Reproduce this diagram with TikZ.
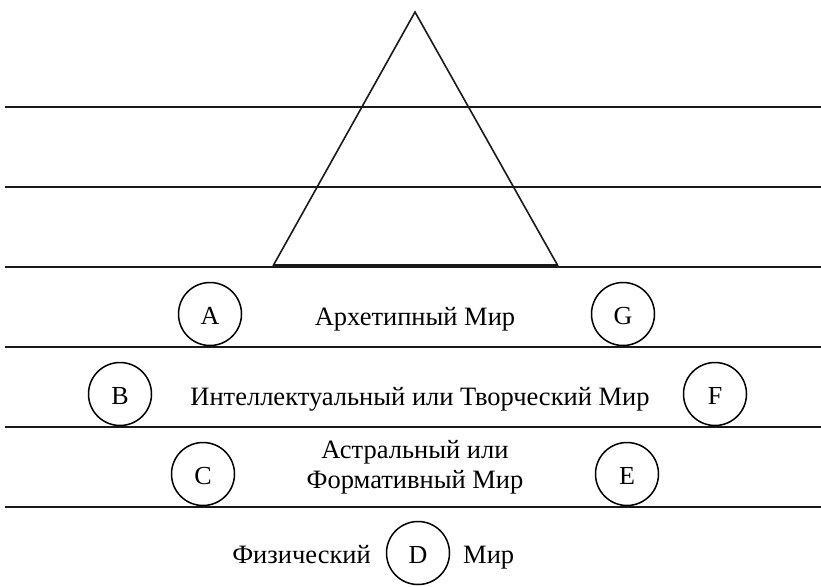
\documentclass[tikz,border=0pt]{standalone}
\usepackage{fontspec}
\setmainfont{Liberation Serif}
\begin{document}
\begin{tikzpicture}[x=1pt,y=-1pt,
  level/.style={line width=2.4pt,black!90},
  tri/.style={line width=1.6pt,black!90},
  letter/.style={circle,draw,line width=1.5pt,minimum size=63pt,inner sep=0pt,text height=20pt,text depth=0pt,font=\fontsize{26}{30}\selectfont},
  label/.style={font=\fontsize{26.5}{30}\selectfont,inner sep=0pt,anchor=base}]
\useasboundingbox (0,0) rectangle (821,586);
% horizontal levels
\foreach \y/\n in {107/l1,187/l2,267/l3,347/l4,427/l5,507/l6}{
  \coordinate (\n w) at (5,\y);
  \coordinate (\n e) at (821,\y);
  \draw[level] (\n w) -- (\n e);
}
% triangle
\coordinate (apex) at (415,12);
\coordinate (bl) at (273,266);
\coordinate (br) at (558,266);
\draw[tri,line join=miter] (bl) -- (apex) -- (br);
\draw[line width=3.4pt,black!90] (bl) -- (br);
% circles
\node[letter] (A) at (210,314) {A};
\node[letter] (G) at (623,314) {G};
\node[letter] (B) at (120,394) {B};
\node[letter] (F) at (715,394) {F};
\node[letter] (C) at (203,474) {C};
\node[letter] (E) at (627,474) {E};
\node[letter] (D) at (418,553) {D};
% labels
\node[label] (t1) at (415,325) {Архетипный Мир};
\node[label] (t2) at (420,405) {Интеллектуальный или Творческий Мир};
\node[label] (t3a) at (415,458) {Астральный или};
\node[label] (t3b) at (415,488) {Формативный Мир};
\node[label,anchor=base east] (t4) at (371,563) {Физический};
\node[label,anchor=base west] (t5) at (463,563) {Мир};
\end{tikzpicture}
\end{document}
